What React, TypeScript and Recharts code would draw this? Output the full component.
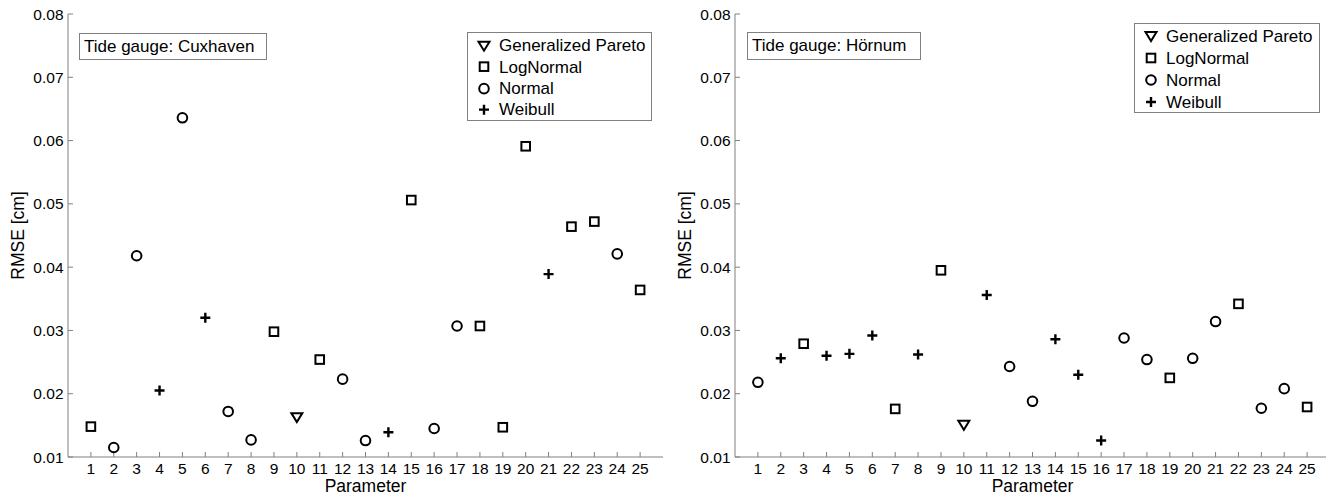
import React from "react";
import { ScatterChart, Scatter, XAxis, YAxis, Legend } from "recharts";

const params = [1, 2, 3, 4, 5, 6, 7, 8, 9, 10, 11, 12, 13, 14, 15, 16, 17, 18, 19, 20, 21, 22, 23, 24, 25];
const yTicks = [0.01, 0.02, 0.03, 0.04, 0.05, 0.06, 0.07, 0.08];
const distNames = ["Generalized Pareto", "LogNormal", "Normal", "Weibull"];

// G = Generalized Pareto, L = LogNormal, N = Normal, W = Weibull
const cuxhavenDist = ["L", "N", "N", "W", "N", "W", "N", "N", "L", "G", "L", "N", "N", "W", "L", "N", "N", "L", "L", "L", "W", "L", "L", "N", "L"];
const cuxhavenRmse = [0.0148, 0.0115, 0.0418, 0.0205, 0.0636, 0.032, 0.0172, 0.0127, 0.0298, 0.0163, 0.0254, 0.0223, 0.0126, 0.0139, 0.0506, 0.0145, 0.0307, 0.0307, 0.0147, 0.0591, 0.0389, 0.0464, 0.0472, 0.0421, 0.0364];

const hoernumDist = ["N", "W", "L", "W", "W", "W", "L", "W", "L", "G", "W", "N", "N", "W", "W", "W", "N", "N", "L", "N", "N", "L", "N", "N", "L"];
const hoernumRmse = [0.0218, 0.0256, 0.0279, 0.026, 0.0263, 0.0292, 0.0176, 0.0262, 0.0395, 0.0151, 0.0356, 0.0243, 0.0188, 0.0286, 0.023, 0.0126, 0.0288, 0.0254, 0.0225, 0.0256, 0.0314, 0.0342, 0.0177, 0.0208, 0.0179];

const codes = ["G", "L", "N", "W"];
const FONT = '"Liberation Sans", Arial, sans-serif';
const FRAME = "#808080";

function Marker({ kind, cx, cy }: { kind: string; cx: number; cy: number }) {
  const s = { fill: "none", stroke: "#000", strokeWidth: 2 };
  if (kind === "G")
    return <path d={`M${cx - 5.5},${cy - 4} L${cx + 5.5},${cy - 4} L${cx},${cy + 5} Z`} {...s} strokeLinejoin="miter" />;
  if (kind === "L") return <rect x={cx - 4.3} y={cy - 4.3} width={8.6} height={8.6} {...s} />;
  if (kind === "N") return <circle cx={cx} cy={cy} r={4.8} {...s} />;
  return <path d={`M${cx - 5},${cy} L${cx + 5},${cy} M${cx},${cy - 5} L${cx},${cy + 5}`} {...s} strokeWidth={2.4} />;
}

type Box = { left: number; top: number; width: number; height: number };

function TideChart(props: {
  title: string;
  rmse: number[];
  dist: string[];
  titleBox: Box;
  legendBox: Box & { rowH: number; padTop: number };
}) {
  const { title, rmse, dist, titleBox, legendBox } = props;
  const series = codes.map((c) =>
    params.map((p, i) => ({ x: p, y: rmse[i], d: dist[i] })).filter((r) => r.d === c)
  );

  const legendContent = ({ payload }: any) => (
    <div
      style={{
        boxSizing: "border-box",
        width: legendBox.width,
        height: legendBox.height,
        border: `1px solid ${FRAME}`,
        background: "#fff",
        paddingTop: legendBox.padTop,
        fontFamily: FONT,
        fontSize: 17,
        color: "#000",
      }}
    >
      {(payload || []).map((e: any) => {
        const idx = distNames.indexOf(e.value);
        return (
          <div key={e.value} style={{ display: "flex", alignItems: "center", height: legendBox.rowH }}>
            <svg width={31} height={legendBox.rowH} style={{ flex: "none" }}>
              <Marker kind={codes[idx]} cx={16} cy={legendBox.rowH / 2} />
            </svg>
            <span style={{ whiteSpace: "nowrap", lineHeight: 1 }}>{e.value}</span>
          </div>
        );
      })}
    </div>
  );

  return (
    <div style={{ position: "relative", width: 667, height: 498 }}>
      <ScatterChart width={667} height={498} margin={{ top: 14, right: 4, bottom: 0, left: 0 }}>
        <XAxis
          dataKey="x"
          type="number"
          domain={[0, 26]}
          ticks={params}
          interval={0}
          height={41}
          stroke={FRAME}
          tickSize={-5}
          tickMargin={11}
          tick={{ fill: "#000", fontSize: 15.5, fontFamily: FONT }}
          label={{
            content: ({ viewBox }: any) => (
              <text x={viewBox.x + viewBox.width / 2} y={492} textAnchor="middle" fontSize={17.5} fontFamily={FONT} fill="#000">
                Parameter
              </text>
            ),
          }}
        />
        <XAxis xAxisId="top" orientation="top" type="number" domain={[0, 26]} ticks={params} interval={0} height={0} stroke={FRAME} tickSize={-5} tick={false} />
        <YAxis
          dataKey="y"
          type="number"
          domain={[0.01, 0.08]}
          ticks={yTicks}
          interval={0}
          width={68}
          stroke={FRAME}
          tickSize={-5}
          tickMargin={9.5}
          tickFormatter={(v: number) => v.toFixed(2)}
          tick={{ fill: "#000", fontSize: 15.5, fontFamily: FONT }}
          label={{
            content: ({ viewBox }: any) => {
              const cx = viewBox.x + 18;
              const cy = viewBox.y + viewBox.height / 2;
              return (
                <text x={cx} y={cy} transform={`rotate(-90, ${cx}, ${cy})`} textAnchor="middle" dominantBaseline="central" fontSize={17.5} fontFamily={FONT} fill="#000">
                  RMSE [cm]
                </text>
              );
            },
          }}
        />
        <YAxis yAxisId="right" orientation="right" type="number" domain={[0.01, 0.08]} ticks={yTicks} interval={0} width={0} stroke={FRAME} tickSize={-5} tick={false} />
        <Legend
          layout="vertical"
          align="center"
          verticalAlign="middle"
          content={legendContent}
          wrapperStyle={{ position: "absolute", left: legendBox.left, top: legendBox.top, width: legendBox.width, height: legendBox.height }}
        />
        {codes.map((c, i) => (
          <Scatter
            key={c}
            name={distNames[i]}
            data={series[i]}
            isAnimationActive={false}
            shape={(p: any) => <Marker kind={c} cx={p.cx} cy={p.cy} />}
          />
        ))}
      </ScatterChart>
      <div
        style={{
          position: "absolute",
          boxSizing: "border-box",
          left: titleBox.left,
          top: titleBox.top,
          width: titleBox.width,
          height: titleBox.height,
          border: `1px solid ${FRAME}`,
          background: "#fff",
          fontFamily: FONT,
          fontSize: 17,
          lineHeight: `${titleBox.height - 2}px`,
          paddingLeft: 4,
          whiteSpace: "nowrap",
          color: "#000",
        }}
      >
        {title}
      </div>
    </div>
  );
}

export default function App() {
  return (
    <div style={{ position: "relative", width: 1334, height: 498, margin: "-8px 0 0 -8px", background: "#fff", fontFamily: FONT }}>
      <div style={{ position: "absolute", left: 0, top: 0 }}>
        <TideChart
          title="Tide gauge: Cuxhaven"
          rmse={cuxhavenRmse}
          dist={cuxhavenDist}
          titleBox={{ left: 79, top: 33, width: 188, height: 27 }}
          legendBox={{ left: 467, top: 31.5, width: 185, height: 89, rowH: 21.3, padTop: 2.7 }}
        />
      </div>
      <div style={{ position: "absolute", left: 667, top: 0 }}>
        <TideChart
          title="Tide gauge: Hörnum"
          rmse={hoernumRmse}
          dist={hoernumDist}
          titleBox={{ left: 80, top: 31.5, width: 174, height: 28 }}
          legendBox={{ left: 467, top: 23.3, width: 186, height: 90, rowH: 22, padTop: 1 }}
        />
      </div>
    </div>
  );
}
